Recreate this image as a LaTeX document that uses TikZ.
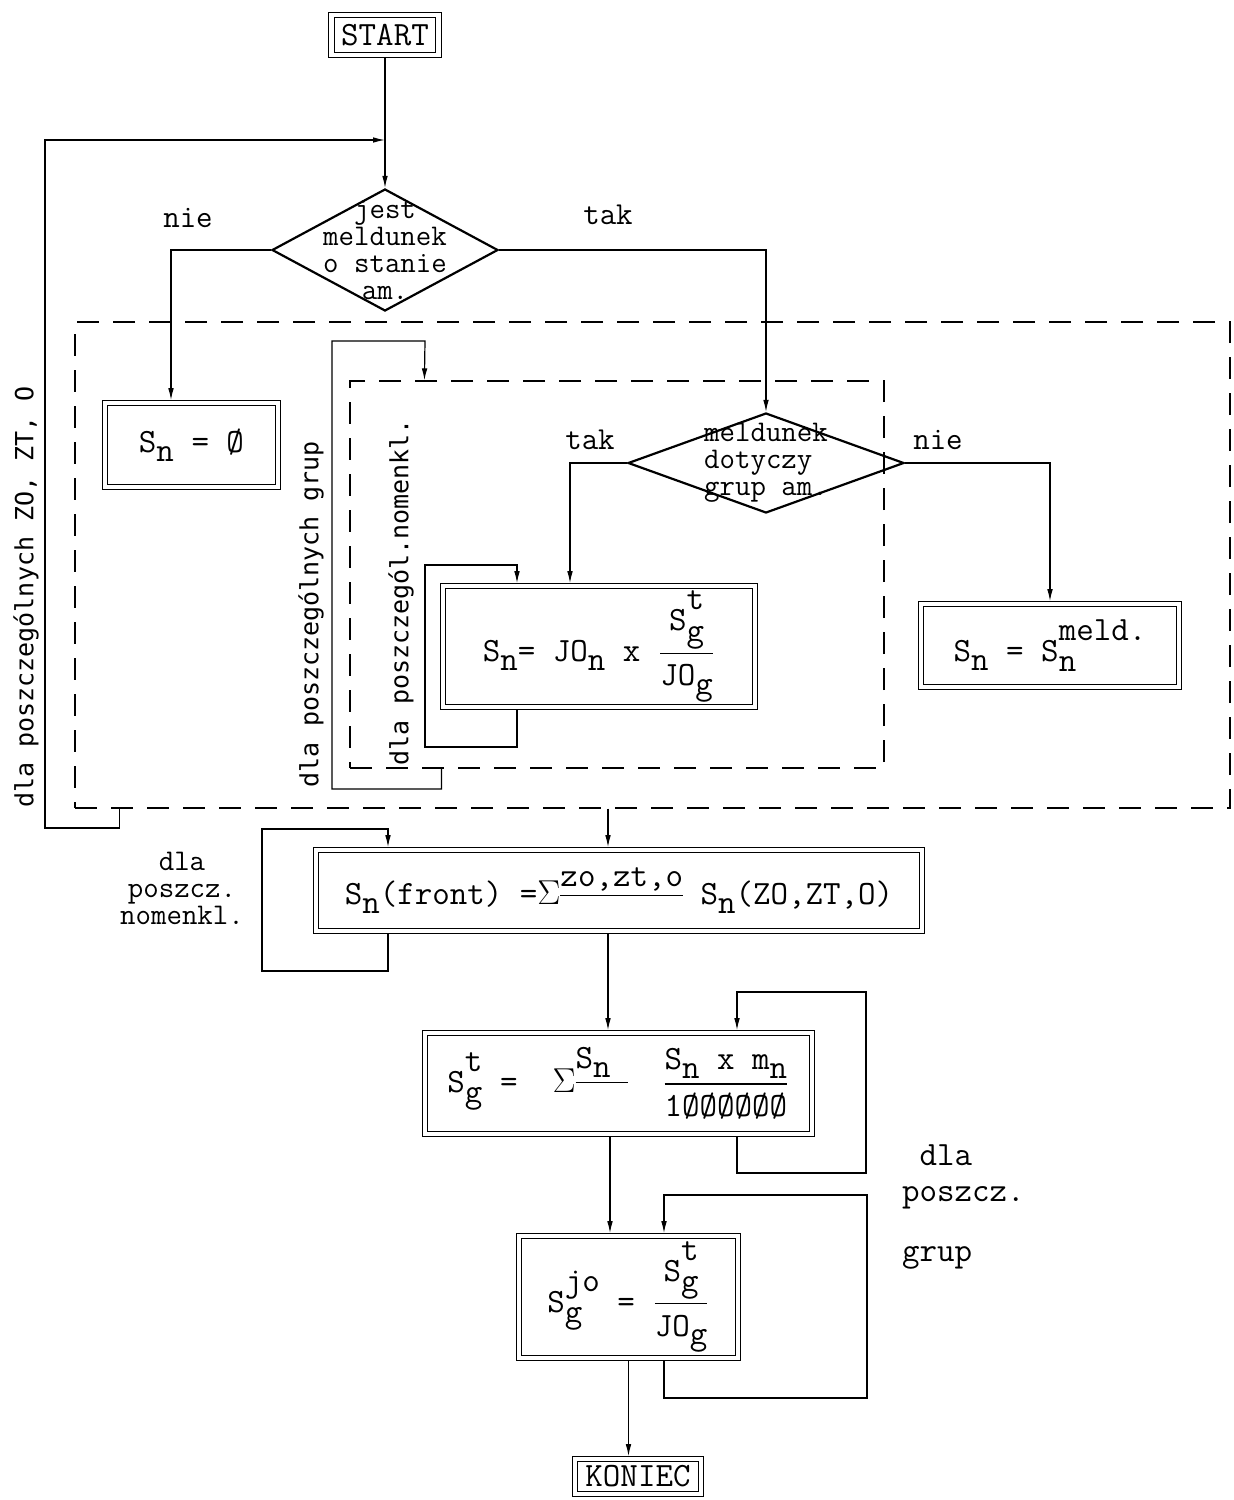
\documentclass[tikz,border=0pt]{standalone}
\usepackage{amsmath}
\usepackage{fontspec}
\newfontfamily\sidefont{DejaVu Sans Mono}
\usetikzlibrary{shapes.geometric,arrows.meta}

% indeksy jak z maszyny do pisania
\newcommand{\tsub}[1]{\raisebox{-0.6ex}{#1}}
\newcommand{\tboth}[2]{\rlap{\raisebox{-0.7ex}{#2}}\raisebox{1.45ex}{#1}}
\newcommand{\tfr}[2]{$\genfrac{}{}{0.6pt}{0}{\text{#1}}{\text{#2}}$}

\tikzset{
    flow/.style={line width=0.6pt, -{Latex[length=6pt,width=2.8pt]}},
    calcbox/.style 2 args={draw, double, double distance=2.2pt, line width=0.45pt,
        inner sep=0pt, outer sep=1.4pt, minimum width=#1, minimum height=#2},
    decision/.style 2 args={diamond, draw, line width=1.1pt, inner sep=0pt,
        minimum width=#1, minimum height=#2},
    zone/.style 2 args={draw, dash pattern=on 11pt off 7pt, line width=0.6pt,
        inner sep=0pt, minimum width=#1, minimum height=#2},
    tag/.style={font=\ttfamily\fontsize{16pt}{18pt}\selectfont},
    sidetext/.style={rotate=90, font=\sidefont\fontsize{12.5pt}{14pt}\selectfont}
}

\begin{document}
\begin{tikzpicture}[x=0.5pt, y=-0.5pt, font=\ttfamily\fontsize{17pt}{18pt}\selectfont]
    \useasboundingbox (0,0) rectangle (1234,1500);

    % ramki petli
    \node[zone={577.5pt}{243pt}] (zo) at (652.5,565) {};
    \node[zone={267pt}{193.5pt}] (nz) at (617,574.5) {};

    % bloki
    \node[calcbox={53.5pt}{20pt}] (start) at (385,35) {START};
    \node[decision={113pt}{61pt},
          label={[align=center, font=\ttfamily\fontsize{15pt}{13.5pt}\selectfont]center:jest\\meldunek\\o stanie\\am.}]
          (d1) at (385,250) {};
    \node[decision={138pt}{50pt},
          label={[align=left, font=\ttfamily\fontsize{15pt}{13.5pt}\selectfont]center:meldunek\\dotyczy\\grup am.}]
          (d2) at (766,463) {};
    \node[calcbox={86.5pt}{42pt}] (sn0) at (191.5,445) {S\tsub{n} = Ø};
    \node[calcbox={156pt}{60.5pt}] (jo) at (599,646.5)
          {S\tsub{n}= JO\tsub{n} x \tfr{S\tboth{t}{g}}{JO\tsub{g}}};
    \node[calcbox={129pt}{41.5pt}] (meld) at (1050,645.5) {S\tsub{n} = S\tboth{meld.}{n}};
    \node[calcbox={303pt}{40.5pt}] (front) at (619,890.5)
          {S\tsub{n}(front) =$\Sigma$\raisebox{0.55em}{\underline{zo,zt,o}} S\tsub{n}(ZO,ZT,O)};
    \node[calcbox={193.5pt}{50.5pt}] (sgt) at (618.5,1083.5)
          {S\tboth{t}{g} =\ \ $\Sigma$\raisebox{0.7em}{\underline{S\tsub{n}\ }}\quad\tfr{S\tsub{n} x m\tsub{n}}{1ØØØØØØ}};
    \node[calcbox={109.5pt}{61pt}] (sgjo) at (628.5,1297)
          {S\tboth{jo}{g} = \tfr{S\tboth{t}{g}}{JO\tsub{g}}};
    \node[calcbox={63pt}{17.5pt}] (stop) at (638,1476.5) {KONIEC};

    % napisy
    \node[tag] (nie1) at (188,218) {nie};
    \node[tag] (tak1) at (608,215) {tak};
    \node[tag] (tak2) at (590,440) {tak};
    \node[tag] (nie2) at (938,440) {nie};
    \node[align=center, font=\ttfamily\fontsize{15pt}{13.5pt}\selectfont] (nomlab) at (182,888) {dla\\poszcz.\\nomenkl.};
    \node[anchor=north west, align=left] (grplab) at (895,1138) {\phantom{p}dla\\poszcz.\\[12pt]grup};
    \node[sidetext] (lzo) at (26,597) {dla poszczególnych ZO, ZT, O};
    \node[sidetext] (lgr) at (311,614) {dla poszczególnych grup};
    \node[sidetext] (lnom) at (401,592) {dla poszczegól.nomenkl.};

    % polaczenia
    \coordinate (merge) at (385,140);
    \draw[flow] (start) -- (d1);
    \draw[flow] (d1.west) -| ([xshift=-10.25pt]sn0.north);
    \draw[flow] (d1.east) -| (d2.north);
    \draw[flow] (d2.west) -| ([xshift=-14.5pt]jo.north);
    \draw[flow] (d2.east) -| (meld.north);

    \coordinate (frontin) at ([xshift=-5.5pt]front.north);
    \draw[flow] (zo.south -| frontin) -- (frontin);
    \coordinate (sp1) at ([xshift=-5.5pt]front.south);
    \draw[flow] (sp1) -- (sp1 |- sgt.north);
    \coordinate (sp2) at ([xshift=-4.25pt]sgt.south);
    \draw[flow] (sp2) -- (sp2 |- sgjo.north);
    \draw[flow] (sgjo.south) -- (sgjo.south |- stop.north);

    % petle
    \draw[flow] ([xshift=22.5pt]zo.south west) |- (45,828) |- (merge);
    \draw[flow] ([xshift=46pt]nz.south west) |- (332,789) |- (425,341) -- ([xshift=37.5pt]nz.north west);
    \draw[flow] ([xshift=-41pt]jo.south) |- (425,747) |- (517,565) -- ([xshift=-41pt]jo.north);
    \draw[flow] ([xshift=-115.5pt]front.south) |- (262,971) |- (388,829) -- ([xshift=-115.5pt]front.north);
    \draw[flow] ([xshift=59.25pt]sgt.south) |- (866,1173) |- (737,992) -- ([xshift=59.25pt]sgt.north);
    \draw[flow] ([xshift=17.75pt]sgjo.south) |- (867,1398) |- (664,1195) -- ([xshift=17.75pt]sgjo.north);
\end{tikzpicture}
\end{document}
